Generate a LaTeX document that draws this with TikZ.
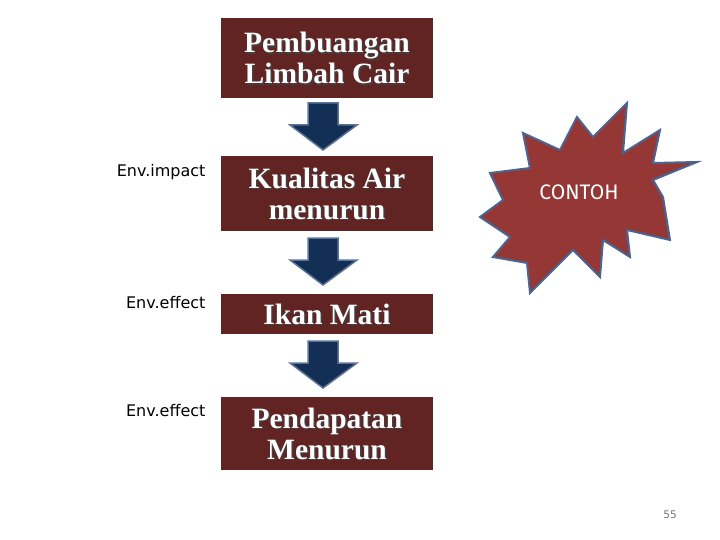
\documentclass[tikz,border=0pt]{standalone}
\usepackage{fontspec}
\setmainfont{Liberation Serif}
\newfontfamily\lab{DejaVu Sans}
\newfontfamily\ctn{Fira Sans}
\definecolor{boxc}{HTML}{622423}
\definecolor{starc}{HTML}{953735}
\definecolor{stare}{HTML}{4A6592}
\definecolor{arrc}{HTML}{142F55}
\definecolor{arre}{HTML}{5A7396}
\begin{document}
\begin{tikzpicture}[x=1pt,y=-1pt,
 bx/.style={fill=boxc,draw=none,text=white,font=\bfseries\fontsize{29.5}{31}\selectfont,align=center},
 lb/.style={font=\lab\fontsize{16}{18}\selectfont,anchor=east},
 dar/.style={fill=arrc,draw=arre,line width=1.5pt,line join=miter}]
\useasboundingbox (0,0) rectangle (720,540);
\fill[boxc] (221,18) rectangle (433,98);
\fill[boxc] (221,156) rectangle (433,231);
\fill[boxc] (221,294) rectangle (433,334);
\fill[boxc] (221,397) rectangle (433,470);
\foreach \t/\y in {{Pembuangan\\Limbah Cair}/58,{Kualitas Air\\menurun}/193.5,{Ikan Mati}/314,{Pendapatan\\Menurun}/433.5}{
 \node[bx,fill=none,text=black!75] at (328.5,\y+1.5) {\t};
 \node[bx,fill=none] (n\y) at (327,\y) {\t};}
\foreach \a in {103,238,341}{
 \draw[dar] (308,\a) -- (338,\a) -- (338,\a+22) -- (357,\a+22) -- (323,\a+47) -- (290,\a+22) -- (308,\a+22) -- cycle;}
\node[lb] (l1) at (209,172) {Env.impact};
\node[lb] (l2) at (209,303) {Env.effect};
\node[lb] (l3) at (209,411) {Env.effect};
\draw[fill=starc,draw=stare,line width=2pt,line join=miter]
 (627,103) -- (623,153) -- (660,130) -- (653,163) -- (697,162) -- (653,180) -- (663,197) -- (670,240)
 -- (627,230) -- (630,257) -- (603,240) -- (600,277) -- (573,250) -- (530,293) -- (527,263)
 -- (493,257) -- (510,237) -- (480,217) -- (503,200) -- (490,173) -- (530,168) -- (523,133)
 -- (560,150) -- (577,117) -- (593,137) -- cycle;
\node[text=white,font=\ctn\fontsize{21}{23}\selectfont] (c) at (579,192) {CONTOH};
\node[text=black!55,font=\lab\fontsize{10.5}{12}\selectfont] (p) at (670,515) {55};
\end{tikzpicture}
\end{document}
